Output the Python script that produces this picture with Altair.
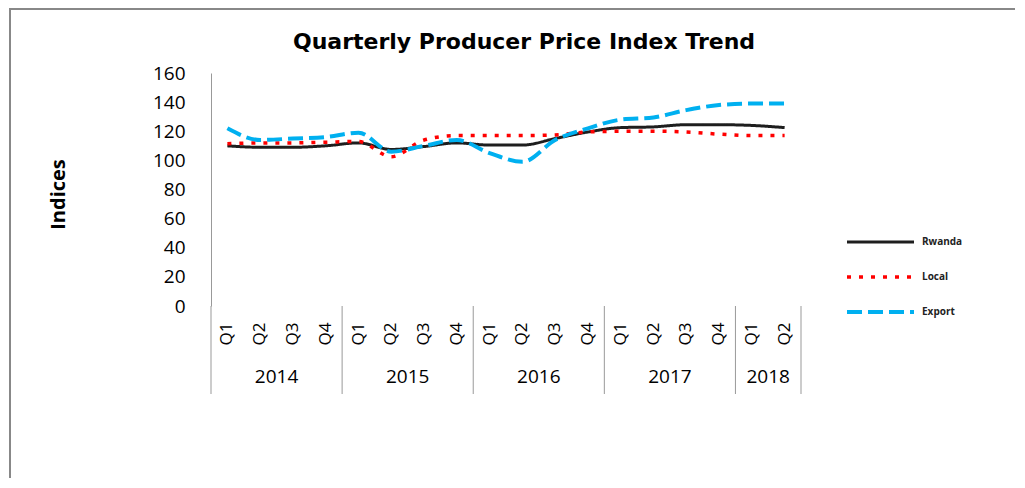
import altair as alt
import pandas as pd

# ---------------- data ----------------
title_text = "Quarterly Producer Price Index  Trend"
quarters = ["Q1", "Q2", "Q3", "Q4"] * 4 + ["Q1", "Q2"]
years = ["2014"] * 4 + ["2015"] * 4 + ["2016"] * 4 + ["2017"] * 4 + ["2018"] * 2

rwanda = [110, 109, 109, 110, 112, 107.5, 109.5, 112, 110.5, 110.5, 115, 119.5,
          122.5, 123, 124.5, 124.5, 124, 122.5]
local = [111.5, 112, 112, 112.5, 113, 102.5, 114, 117, 117, 117, 117.5, 119.5,
         120, 120, 119.5, 118, 117, 117]
export = [122, 114, 115, 116, 119, 106, 110, 114, 105, 99, 114, 122,
          128, 129.5, 134.5, 138, 139, 139]

series_names = ["Rwanda", "Local", "Export"]
series_colors = ["#1e1e1e", "#ff0000", "#00b0f0"]
series_dashes = [[1, 0], [4, 8], [15, 6]]
series_widths = [3, 4, 5]

# ---------------- tables ----------------
keys = [f"{y}-{q}" for y, q in zip(years, quarters)]
rows = []
for name, vals in zip(series_names, [rwanda, local, export]):
    for k, v in zip(keys, vals):
        rows.append({"period": k, "series": name, "value": v})
df = pd.DataFrame(rows)

quarter_df = pd.DataFrame({"period": keys, "label": quarters})

year_list = list(dict.fromkeys(years))
year_rows, start_rows = [], []
for yr in year_list:
    idx = [i for i, y in enumerate(years) if y == yr]
    anchor = idx[0] + len(idx) // 2 - 1
    year_rows.append({"period": keys[anchor], "label": yr})
    start_rows.append({"period": keys[idx[0]]})
year_df = pd.DataFrame(year_rows)
start_df = pd.DataFrame(start_rows)
end_df = pd.DataFrame([{"period": keys[-1]}])

W, H = 590, 233
half = W / len(keys) / 2

xscale = alt.Scale(type="point", padding=0.5, domain=keys)
x_plain = alt.X("period:N", scale=xscale, axis=None)

lines = alt.Chart(df).mark_line(interpolate="monotone").encode(
    x=alt.X("period:N", sort=keys, scale=xscale,
            axis=alt.Axis(title=None, labels=False, ticks=False,
                          domainColor="#999", domainWidth=1)),
    y=alt.Y("value:Q", scale=alt.Scale(domain=[0, 160], nice=False),
            axis=alt.Axis(values=list(range(0, 161, 20)), grid=False, ticks=False,
                          domainColor="#999", labelFontSize=19, labelFont="Open Sans",
                          labelColor="#000", labelPadding=26,
                          title="Indices", titleFontSize=20, titleFont="Open Sans",
                          titleFontWeight="bold", titleColor="#000",
                          titleX=-153, titleY=121, titleAngle=-90,
                          titleAlign="center", titleBaseline="middle")),
    color=alt.Color("series:N", sort=series_names,
                    scale=alt.Scale(domain=series_names, range=series_colors),
                    legend=alt.Legend(title=None, orient="none", legendX=634, legendY=157,
                                      symbolType="stroke", symbolSize=4489,
                                      labelFontSize=10, labelFontWeight="bold",
                                      labelFont="Open Sans", labelColor="#222",
                                      clipHeight=24, rowPadding=11, labelOffset=6)),
    strokeDash=alt.StrokeDash("series:N", sort=series_names,
                              scale=alt.Scale(domain=series_names, range=series_dashes),
                              legend=alt.Legend(title=None)),
    strokeWidth=alt.StrokeWidth("series:N", sort=series_names,
                                scale=alt.Scale(domain=series_names, range=series_widths),
                                legend=alt.Legend(title=None)),
)

quarter_text = alt.Chart(quarter_df).mark_text(
    fontSize=17, font="Open Sans", color="#000", angle=270,
    align="center", baseline="middle"
).encode(x=x_plain, y=alt.value(261), text="label:N")

year_text = alt.Chart(year_df).mark_text(
    fontSize=19, font="Open Sans", color="#000", xOffset=half, baseline="middle"
).encode(x=x_plain, y=alt.value(304), text="label:N")

sep_start = alt.Chart(start_df).mark_rule(color="#999", xOffset=-half).encode(
    x=x_plain, y=alt.value(H), y2=alt.value(321))
sep_end = alt.Chart(end_df).mark_rule(color="#999", xOffset=half).encode(
    x=x_plain, y=alt.value(H), y2=alt.value(321))

one = pd.DataFrame([{"t": title_text}])
frame = alt.Chart(one).mark_rect(
    fill="transparent", stroke="#888", strokeWidth=2
).encode(x=alt.value(-201), x2=alt.value(830), y=alt.value(-64), y2=alt.value(430))

title_mark = alt.Chart(one).mark_text(
    fontSize=22, font="DejaVu Sans", fontWeight="bold", color="#000",
    align="center", baseline="middle"
).encode(x=alt.value(W / 2 + 18), y=alt.value(-31), text="t:N")

chart = alt.layer(frame, lines, sep_start, sep_end, quarter_text, year_text,
                  title_mark).properties(
    width=W, height=H,
    autosize=alt.AutoSizeParams(type="none"),
    padding={"left": 203, "top": 65, "right": 214, "bottom": 172},
).configure(background="white").configure_view(stroke=None, strokeWidth=0)

chart.save("out.html", embed_options={"renderer": "svg", "actions": False})
